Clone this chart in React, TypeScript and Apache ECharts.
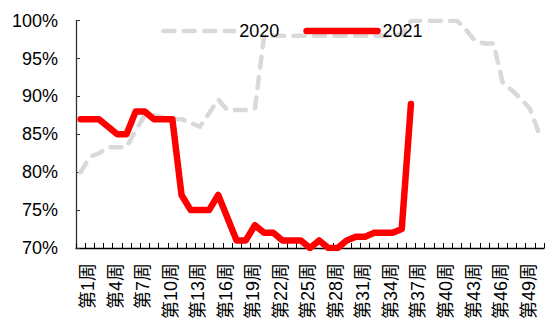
import React, { useEffect, useRef } from "react";
import * as echarts from "echarts";

const categories = [
  "第1周", "第2周", "第3周", "第4周", "第5周", "第6周", "第7周", "第8周", "第9周", "第10周",
  "第11周", "第12周", "第13周", "第14周", "第15周", "第16周", "第17周", "第18周", "第19周", "第20周",
  "第21周", "第22周", "第23周", "第24周", "第25周", "第26周", "第27周", "第28周", "第29周", "第30周",
  "第31周", "第32周", "第33周", "第34周", "第35周", "第36周", "第37周", "第38周", "第39周", "第40周",
  "第41周", "第42周", "第43周", "第44周", "第45周", "第46周", "第47周", "第48周", "第49周", "第50周",
  "第51周",
];

const values2020 = [
  80, 82, 82.5, 83.3, 83.3, 83.3, 85.5, 87.5, 87.5, 87.2,
  87, 87, 86.5, 86, 87.8, 89.6, 88.2, 88.2, 88.2, 88.4,
  98, 98, 98, 98, 98, 98, 98, 98, 98, 98,
  98, 98, 98, 98, 98, 98.2, 100, 100, 100, 100,
  100, 100, 98.8, 97.3, 97, 97, 91.8, 90.8, 89.7, 88.3,
  85,
];

const values2021 = [
  87, 87, 87, 86, 85, 85, 88, 88, 87, 87,
  87, 77, 75, 75, 75, 77, 74, 71, 71, 73,
  72, 72, 71, 71, 71, 70, 71, 70, 70, 71,
  71.5, 71.5, 72, 72, 72, 72.5, 89,
];

const seriesNames = ["2020", "2021"];
const yMin = 70;
const yMax = 100;
const yStep = 5;

const FONT = '"Liberation Sans", "Noto Sans CJK SC", Arial, sans-serif';

export default function App() {
  const ref = useRef<HTMLDivElement>(null);
  useEffect(() => {
    if (!ref.current) return;
    const chart = echarts.init(ref.current, null, { renderer: "svg" });
    chart.setOption({
      animation: false,
      backgroundColor: "#ffffff",
      textStyle: { fontFamily: FONT },
      legend: {
        left: 156,
        top: 17,
        itemWidth: 71,
        itemHeight: 18,
        itemGap: 24,
        itemStyle: { color: "rgba(0,0,0,0)", borderWidth: 0, opacity: 0 },
        lineStyle: { width: "inherit", type: "inherit", cap: "round" },
        textStyle: { fontSize: 18, color: "#000", fontFamily: FONT },
        data: seriesNames,
      },
      grid: { left: 76, right: 1, top: 20.7, bottom: 75, containLabel: false },
      xAxis: {
        type: "category",
        data: categories,
        boundaryGap: true,
        axisLine: { show: true, lineStyle: { color: "#000", width: 1.3 } },
        axisTick: { show: true, inside: true, length: 5, interval: 0, lineStyle: { color: "#000" } },
        axisLabel: {
          interval: 2,
          rotate: 90,
          margin: 15,
          fontSize: 18,
          color: "#000",
          fontFamily: FONT,
          verticalAlign: "top",
          lineHeight: 15,
        },
        splitLine: { show: false },
      },
      yAxis: {
        type: "value",
        min: yMin,
        max: yMax,
        interval: yStep,
        axisLine: { show: true, lineStyle: { color: "#333", width: 1.3 } },
        axisTick: { show: true, inside: true, length: 4, lineStyle: { color: "#333" } },
        axisLabel: {
          formatter: "{value}%",
          fontSize: 18,
          color: "#000",
          margin: 18,
          fontFamily: FONT,
        },
        splitLine: { show: false },
      },
      series: [
        {
          name: seriesNames[0],
          type: "line",
          data: values2020,
          symbol: "none",
          smooth: false,
          lineStyle: { color: "#D9D9D9", width: 4.5, type: [11, 9.5], cap: "round", join: "round" },
          itemStyle: { color: "#D9D9D9" },
          z: 2,
        },
        {
          name: seriesNames[1],
          type: "line",
          data: values2021,
          symbol: "none",
          smooth: false,
          lineStyle: { color: "#FF0000", width: 6.5, cap: "round", join: "round" },
          itemStyle: { color: "#FF0000" },
          z: 3,
        },
      ],
    });
    return () => chart.dispose();
  }, []);
  return (
    <div
      ref={ref}
      style={{ position: "fixed", left: 0, top: 0, width: 545, height: 323, background: "#fff" }}
    />
  );
}
